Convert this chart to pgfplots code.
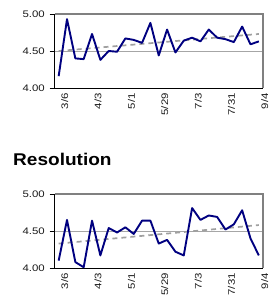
\documentclass[border=0pt]{standalone}
\usepackage{fontspec}
\setmainfont{Liberation Sans}
\newfontfamily\tickfont[FakeStretch=1.2]{Liberation Sans}
\newfontfamily\titlefont[FakeStretch=1.12]{Liberation Sans}
\usepackage{pgfplots}
\pgfplotsset{compat=1.18}
\definecolor{navyline}{RGB}{0,0,128}
\definecolor{trendgray}{RGB}{160,160,160}
\definecolor{bordergray}{RGB}{128,128,128}
\pgfplotstableread{
x top bottom
0 4.16 4.10
1 4.93 4.65
2 4.40 4.08
3 4.39 4.01
4 4.73 4.64
5 4.38 4.17
6 4.50 4.54
7 4.49 4.48
8 4.67 4.55
9 4.65 4.46
10 4.61 4.64
11 4.88 4.64
12 4.44 4.33
13 4.79 4.38
14 4.48 4.22
15 4.64 4.17
16 4.68 4.81
17 4.63 4.65
18 4.79 4.71
19 4.68 4.69
20 4.66 4.52
21 4.62 4.59
22 4.83 4.78
23 4.59 4.40
24 4.63 4.17
}\datatable
\pgfplotstableread{
x top bottom
0 4.50 4.33
24 4.73 4.58
}\trendtable
\pgfplotsset{
  mystyle/.style={
    scale only axis,
    width=208.5pt, height=74pt,
    anchor=south west,
    xmin=-0.5, xmax=24.5,
    ymin=4, ymax=5,
    clip=false,
    axis x line*=bottom, axis y line*=left,
    axis line style={black, line width=0.8pt, -},
    ytick={4,4.5,5},
    yticklabel style={/pgf/number format/fixed,/pgf/number format/fixed zerofill,/pgf/number format/precision=2, font=\tickfont\fontsize{9.5}{10}\selectfont, text=black!90, inner sep=0pt, anchor=east, xshift=-4.5pt},
    /pgf/number format/assume math mode=true,
    xtick={0,4,8,12,16,20,24},
    xticklabels={3/6,4/3,5/1,5/29,7/3,7/31,9/4},
    xticklabel style={rotate=90, anchor=east, font=\tickfont\fontsize{9.5}{10}\selectfont, text=black!90, inner sep=0pt, yshift=-6pt},
    minor xtick={-0.5,0.5,...,24.5},
    xtick style={draw=none},
    minor x tick style={black, line width=0.7pt},
    minor tick length=4.5pt,
    ytick style={black, line width=0.7pt},
    major tick length=5pt,
    tick align=outside,
    ymajorgrids, grid style={bordergray!70, line width=0.5pt},
    after end axis/.code={
      \draw[bordergray, line width=1.6pt] (rel axis cs:0,1) -- (rel axis cs:1,1) -- (rel axis cs:1,0);
    },
  }
}
\begin{document}
\begin{tikzpicture}
\path[use as bounding box] (0,0) rectangle (271pt,303pt);
\begin{axis}[mystyle, at={(54.5pt,215pt)}]
  \addplot[trendgray, line width=1.7pt, dash pattern=on 5pt off 4pt] table[x=x, y=top] {\trendtable};
  \addplot[navyline, line width=1.9pt, line join=round, mark=none] table[x=x, y=top] {\datatable};
\end{axis}
\node[anchor=base west, inner sep=0pt, font=\titlefont\bfseries\fontsize{17}{20}\selectfont] at (13pt,137pt) {Resolution};
\begin{axis}[mystyle, at={(54.5pt,35pt)}]
  \addplot[trendgray, line width=1.7pt, dash pattern=on 5pt off 4pt] table[x=x, y=bottom] {\trendtable};
  \addplot[navyline, line width=1.9pt, line join=round, mark=none] table[x=x, y=bottom] {\datatable};
\end{axis}
\end{tikzpicture}
\end{document}
